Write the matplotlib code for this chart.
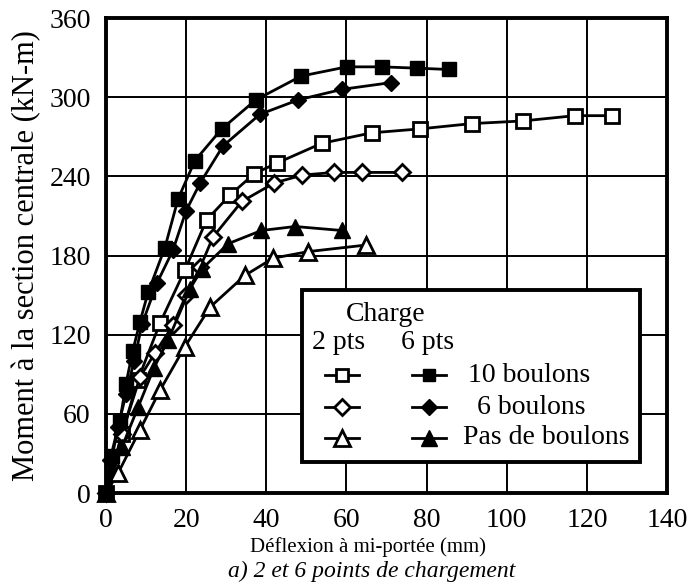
import matplotlib.pyplot as plt

plt.rcParams['font.family'] = ['Liberation Serif', 'DejaVu Serif']

# -----------------------
# DONNÉES
# -----------------------
# 2 points de chargement (symboles ouverts)
x_2p_10b = [0, 4, 8, 13.5, 19.7, 25.1, 31, 37, 42.6, 53.8, 66.3, 78.4, 91.3, 104, 117, 126.2]
y_2p_10b = [0, 45, 86, 129, 169, 207, 226, 242, 250, 265, 273, 276, 280, 282, 286, 286]

x_2p_6b = [0, 4, 8.5, 12.2, 16.7, 20, 23.5, 26.7, 33.9, 42, 49, 57, 64, 73.8]
y_2p_6b = [0, 45, 88, 106, 127, 150, 171, 194, 221, 235, 241, 243, 243, 243]

x_2p_0b = [0, 3, 8.5, 13.5, 19.7, 26, 34.7, 41.7, 50.5, 65]
y_2p_0b = [0, 15, 48, 78, 111, 141, 165, 178, 183, 188]

# 6 points de chargement (symboles pleins)
x_6p_10b = [0, 1.5, 3.5, 5, 6.7, 8.5, 10.5, 14.7, 18, 22.2, 28.9, 37.4, 48.7, 60.1, 68.9, 77.6, 85.6]
y_6p_10b = [0, 28, 55, 83, 108, 130, 152, 186, 223, 252, 276, 298, 316, 323, 323, 322, 321]

x_6p_6b = [0, 1, 3, 5, 7, 9, 12.7, 16.7, 20, 23.5, 29.2, 38.4, 48, 59, 71]
y_6p_6b = [0, 25, 50, 75, 100, 128, 159, 184, 214, 235, 263, 287, 298, 306, 311]

x_6p_0b = [0, 4, 8, 12, 15.5, 21, 24, 30.5, 38.8, 47.2, 58.8]
y_6p_0b = [0, 35, 65, 95, 116, 155, 170, 189, 199, 202, 199]

legend_labels = ["10 boulons", "6 boulons", "Pas de boulons"]

# -----------------------
# FIGURE
# -----------------------
fig = plt.figure(figsize=(6.9, 5.87), dpi=100)
ax = fig.add_axes([0.1536, 0.160, 0.8131, 0.8093])

lw = 2.0
ouvert = dict(color='black', lw=lw, mfc='white', mec='black', mew=2, clip_on=False, zorder=3)
plein = dict(color='black', lw=lw, mfc='black', mec='black', mew=1, clip_on=False, zorder=4)

ax.plot(x_2p_10b, y_2p_10b, marker='s', ms=10, **ouvert)
ax.plot(x_2p_6b, y_2p_6b, marker='D', ms=8.5, **ouvert)
ax.plot(x_2p_0b, y_2p_0b, marker='^', ms=12, **ouvert)
ax.plot(x_6p_10b, y_6p_10b, marker='s', ms=10, **plein)
ax.plot(x_6p_6b, y_6p_6b, marker='D', ms=8.5, **plein)
ax.plot(x_6p_0b, y_6p_0b, marker='^', ms=12, **plein)

ax.set_xlim(0, 140)
ax.set_ylim(0, 360)
ax.set_xticks(range(0, 141, 20))
ax.set_yticks(range(0, 361, 60))
ax.tick_params(length=0, labelsize=20)
ax.tick_params(axis='y', pad=11)
ax.tick_params(axis='x', pad=11)
ax.grid(True, color='black', lw=1.4)
ax.set_axisbelow(True)
for s in ax.spines.values():
    s.set_linewidth(2.8)

ax.set_ylabel("Moment à la section centrale (kN-m)", fontsize=22, labelpad=6)
ax.set_xlabel("Déflexion à mi-portée (mm)", fontsize=15, labelpad=3)
ax.xaxis.label.set_x(0.467)
fig.text(0.538, 0.008, "a) 2 et 6 points de chargement", fontsize=17,
         style='italic', ha='center', va='bottom')

# -----------------------
# LÉGENDE (dessinée à la main)
# -----------------------
tr = ax.transAxes
box = plt.Rectangle((0.350, 0.065), 0.602, 0.362, transform=tr, fc='white',
                    ec='black', lw=2.8, zorder=6)
ax.add_patch(box)
ax.text(0.499, 0.375, "Charge", transform=tr, fontsize=20, ha='center', va='center', zorder=7)
ax.text(0.415, 0.318, "2 pts", transform=tr, fontsize=20, ha='center', va='center', zorder=7)
ax.text(0.574, 0.318, "6 pts", transform=tr, fontsize=20, ha='center', va='center', zorder=7)

rows = [0.248, 0.181, 0.116]
markers = [('s', 9), ('D', 8), ('^', 11)]
label_x = [0.645, 0.661, 0.636]
for yy, (m, ms), lab, lx in zip(rows, markers, legend_labels, label_x):
    ax.plot([0.390, 0.451], [yy, yy], transform=tr, color='black', lw=lw,
            zorder=7, clip_on=False)
    ax.plot([0.421], [yy], transform=tr, marker=m, ms=ms, mfc='white', mec='black',
            mew=2, zorder=8, clip_on=False)
    ax.plot([0.545, 0.606], [yy, yy], transform=tr, color='black', lw=lw,
            zorder=7, clip_on=False)
    ax.plot([0.576], [yy], transform=tr, marker=m, ms=ms, mfc='black', mec='black',
            zorder=8, clip_on=False)
    ax.text(lx, yy, lab, transform=tr, fontsize=20, ha='left', va='center', zorder=8)

fig.savefig("out.png", dpi=100)
